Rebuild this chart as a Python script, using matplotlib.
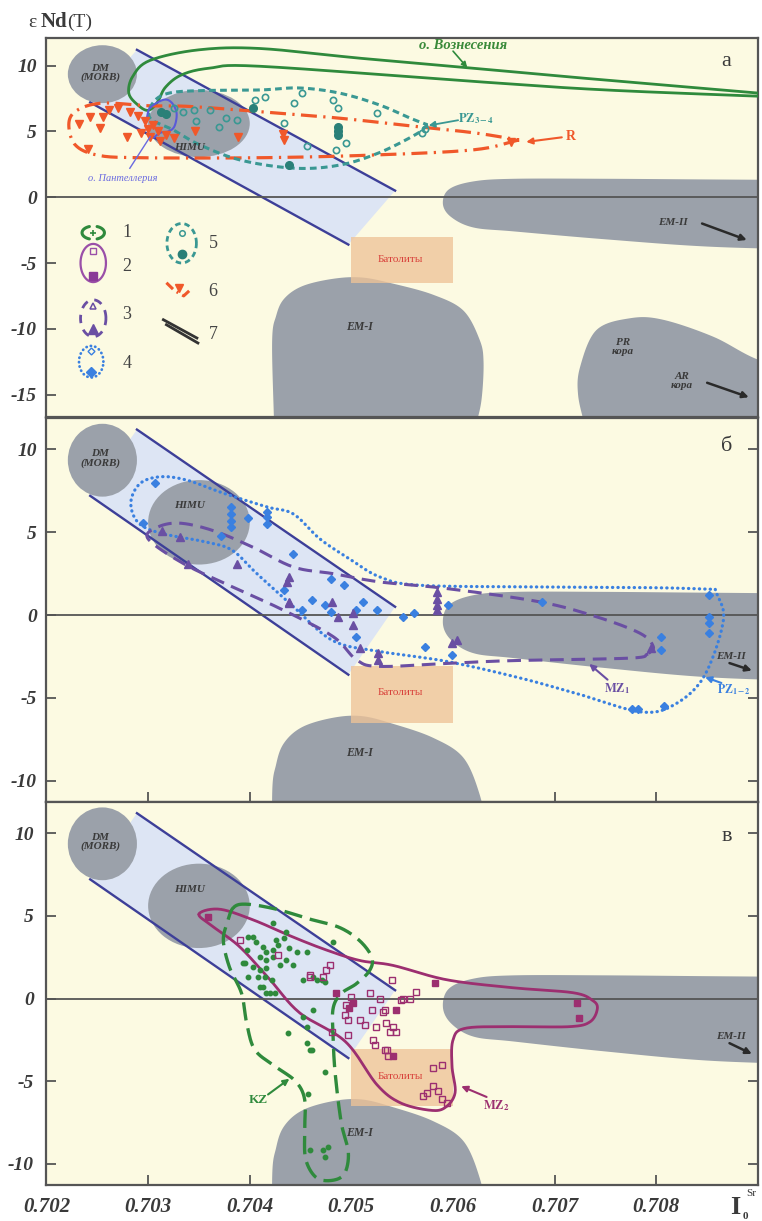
import numpy as np
import matplotlib
matplotlib.use("Agg")
import matplotlib.pyplot as plt
from matplotlib.patches import Ellipse, Polygon, Rectangle

plt.rcParams['font.family'] = ['Liberation Serif', 'DejaVu Serif']
plt.rcParams['mathtext.fontset'] = 'stix'

# ---------------- axes ----------------
X_RANGE = (0.702, 0.709)
X_TICKS = [0.702, 0.703, 0.704, 0.705, 0.706, 0.707, 0.708]
X_TICK_LABELS = ['0.702', '0.703', '0.704', '0.705', '0.706', '0.707', '0.708']
Y_RANGE_A = (-16.7, 12.1)
Y_TICKS_A = [10, 5, 0, -5, -10, -15]
Y_RANGE_BC = (-11.27, 11.88)
Y_TICKS_BC = [10, 5, 0, -5, -10]

# ---------------- mantle / crust reservoirs ----------------
DM_CENTER, DM_SIZE = (0.70255, 9.35), (0.00068, 4.4)
HIMU_CENTER, HIMU_SIZE = (0.70350, 5.6), (0.00100, 5.1)
BAND_UPPER = [(0.70289, 11.2), (0.70543, 0.5)]
BAND_LOWER = [(0.70243, 7.2), (0.70497, -3.6)]
BATHOLITH_X = (0.70500, 0.70600)
BATHOLITH_Y = (-6.5, -3.05)
EM1_OUTLINE = [(0.70424, -17.5), (0.70422, -11.0), (0.70426, -9.0), (0.70434, -7.7),
               (0.70452, -6.75), (0.70482, -6.2), (0.70510, -6.1), (0.70540, -6.55),
               (0.70580, -7.4), (0.70610, -8.6), (0.70626, -10.8), (0.70630, -12.5),
               (0.70628, -15.4), (0.70622, -17.5)]
EM2_OUTLINE = [(0.70590, -0.5), (0.70596, 0.6), (0.70620, 1.2), (0.70660, 1.4),
               (0.70750, 1.4), (0.70850, 1.35), (0.70960, 1.3), (0.70960, -4.0),
               (0.70850, -3.75), (0.70750, -3.2), (0.70660, -2.6), (0.70620, -2.3),
               (0.70598, -1.5)]
CRUST_OUTLINE = [(0.70725, -12.9), (0.70741, -10.1), (0.70774, -9.2), (0.70806, -9.3),
                 (0.70856, -10.6), (0.70902, -12.4), (0.70960, -13.5), (0.70960, -17.5),
                 (0.70730, -17.5), (0.70723, -15.0)]

# ---------------- panel a: oceanic islands ----------------
ASCENSION = [(0.70925, 7.75), (0.7075, 8.9), (0.7062, 9.8), (0.7051, 10.55),
             (0.7041, 11.3), (0.7035, 11.2), (0.70302, 10.4), (0.70285, 9.2),
             (0.70281, 7.9), (0.70290, 7.0), (0.70300, 6.6), (0.70309, 7.2),
             (0.70317, 8.35), (0.70333, 9.3), (0.70360, 9.8), (0.70410, 9.95),
             (0.7062, 8.8), (0.7075, 8.15), (0.70925, 7.6)]
PANTELLERIA = [(0.70305, 4.5), (0.70312, 4.9), (0.70320, 5.0), (0.70326, 5.4),
               (0.70328, 6.4), (0.70323, 7.2), (0.70315, 7.4), (0.70302, 6.8),
               (0.70299, 6.1)]
PZ34_OUTLINE = [(0.70305, 7.2), (0.70320, 7.9), (0.70352, 8.1), (0.70410, 8.15),
                (0.70449, 8.3), (0.70489, 7.9), (0.70528, 7.0), (0.70558, 6.0),
                (0.70575, 5.5), (0.70564, 4.8), (0.70528, 3.4), (0.70489, 2.45),
                (0.70445, 2.2), (0.70392, 2.8), (0.70351, 3.97), (0.70325, 5.1),
                (0.70302, 6.0)]
R_OUTLINE = [(0.70222, 5.6), (0.70230, 6.6), (0.70255, 7.15), (0.70300, 6.95),
             (0.70340, 6.9), (0.70410, 6.5), (0.70489, 6.0), (0.70560, 5.4),
             (0.70620, 4.9), (0.70665, 4.35), (0.70620, 3.6), (0.70520, 3.2),
             (0.70410, 3.0), (0.70292, 3.0), (0.70250, 3.2), (0.70228, 4.0)]

PZ34_OPEN_X = [0.70325, 0.70334, 0.70345, 0.70361, 0.70377, 0.70387, 0.70370, 0.70405,
               0.70415, 0.70451, 0.70444, 0.70482, 0.70487, 0.70525, 0.70434, 0.70456,
               0.70485, 0.70495, 0.70569, 0.70572, 0.70347]
PZ34_OPEN_Y = [6.8, 6.5, 6.6, 6.6, 6.0, 5.9, 5.35, 7.39,
               7.6, 7.95, 7.19, 7.39, 6.76, 6.38, 5.62, 3.9,
               3.6, 4.1, 4.9, 5.2, 5.8]
PZ34_FILL_X = [0.70313, 0.70318, 0.70403, 0.70487, 0.70487, 0.70487, 0.70439]
PZ34_FILL_Y = [6.5, 6.3, 6.8, 5.3, 5.0, 4.7, 2.45]

R_X = [0.70243, 0.70256, 0.70253, 0.70279, 0.70241, 0.70262, 0.70270, 0.70282,
       0.70290, 0.70297, 0.70305, 0.70300, 0.70310, 0.70293, 0.70318, 0.70325,
       0.70312, 0.70302, 0.70346, 0.70388, 0.70434, 0.70433, 0.70657, 0.70232]
R_Y = [6.1, 6.1, 5.27, 4.6, 3.7, 6.6, 6.8, 6.5,
       6.2, 5.8, 5.5, 5.2, 5.0, 4.9, 4.7, 4.5,
       4.3, 4.6, 5.0, 4.6, 4.35, 4.8, 4.2, 5.6]

# ---------------- panel b: PZ1-2 and MZ1 ----------------
PZ12_OUTLINE = [(0.70292, 7.94), (0.70312, 8.35), (0.70338, 8.15), (0.70374, 7.36),
                (0.70417, 6.53), (0.70443, 6.1), (0.70469, 4.6), (0.70498, 3.4),
                (0.70528, 2.3), (0.70567, 1.8), (0.70680, 1.7), (0.70800, 1.65),
                (0.70858, 1.55), (0.70866, -0.3), (0.70847, -3.7), (0.70818, -5.4),
                (0.70785, -5.85), (0.70725, -4.8), (0.70666, -3.8), (0.70594, -2.8),
                (0.70528, -2.2), (0.70482, -1.55), (0.70443, 0.5), (0.70407, 2.5),
                (0.70383, 3.9), (0.70358, 4.4), (0.70312, 4.95), (0.70290, 5.6),
                (0.70283, 6.8)]
MZ1_OUTLINE = [(0.70300, 4.6), (0.70309, 5.3), (0.70331, 5.55), (0.70364, 5.1),
               (0.70403, 4.1), (0.70443, 2.9), (0.70482, 2.5), (0.70528, 2.0),
               (0.70594, 1.6), (0.70685, 0.8), (0.70741, -0.1), (0.70784, -1.1),
               (0.70797, -1.9), (0.70792, -2.35), (0.70774, -2.6), (0.70659, -2.75),
               (0.70600, -2.9), (0.70528, -3.1), (0.70505, -2.7), (0.70482, -1.3),
               (0.70433, 0.3), (0.70383, 1.7), (0.70335, 3.1)]

PZ12_X = [0.70307, 0.70295, 0.70382, 0.70382, 0.70382, 0.70382, 0.70398, 0.70417,
          0.70417, 0.70417, 0.70443, 0.70372, 0.70434, 0.70480, 0.70493, 0.70461,
          0.70451, 0.70474, 0.70480, 0.70511, 0.70505, 0.70525, 0.70505, 0.70551,
          0.70562, 0.70572, 0.70595, 0.70599, 0.70688, 0.70805, 0.70805, 0.70852,
          0.70852, 0.70852, 0.70852, 0.70776, 0.70782, 0.70808]
PZ12_Y = [8.0, 5.55, 6.5, 6.1, 5.7, 5.3, 5.85, 6.2,
          5.9, 5.5, 3.7, 4.8, 1.5, 2.2, 1.8, 0.9,
          0.3, 0.6, 0.2, 0.8, 0.3, 0.3, -1.3, -0.1,
          0.1, -1.9, 0.6, -2.4, 0.8, -1.3, -2.1, 1.2,
          -0.1, -0.5, -1.1, -5.7, -5.7, -5.5]
MZ1_X = [0.70314, 0.70331, 0.70339, 0.70387, 0.70437, 0.70439, 0.70439, 0.70481,
         0.70439, 0.70487, 0.70502, 0.70502, 0.70508, 0.70526, 0.70526, 0.70584,
         0.70584, 0.70584, 0.70584, 0.70599, 0.70604, 0.70795]
MZ1_Y = [5.1, 4.7, 3.1, 3.1, 2.0, 2.3, 0.7, 0.8,
         0.8, -0.1, 0.1, -0.6, -2.0, -2.3, -2.7, 1.4,
         1.0, 0.6, 0.3, -1.7, -1.5, -2.0]

# ---------------- panel c: MZ2 and KZ ----------------
MZ2_OUTLINE = [(0.70350, 5.1), (0.70370, 5.4), (0.70403, 4.76), (0.70442, 3.73),
               (0.70475, 2.94), (0.70508, 2.3), (0.70541, 2.0), (0.70594, 1.13),
               (0.70659, 0.65), (0.70718, 0.35), (0.70737, -0.1), (0.70742, -0.6),
               (0.70735, -1.4), (0.70715, -1.7), (0.70659, -1.7), (0.70612, -1.8),
               (0.70600, -2.5), (0.70599, -4.1), (0.70602, -5.7), (0.70592, -6.6),
               (0.70577, -6.75), (0.70548, -6.3), (0.70525, -5.2), (0.70494, -2.6),
               (0.70449, -0.86), (0.70420, 1.13), (0.70390, 3.13), (0.70364, 4.34)]
KZ_OUTLINE = [(0.70384, 5.5), (0.70397, 5.7), (0.70426, 5.4), (0.70459, 4.8),
              (0.70488, 4.3), (0.70508, 3.5), (0.70520, 2.5), (0.70518, 1.7),
              (0.70505, 0.9), (0.70490, 0.3), (0.70482, -0.6), (0.70482, -2.3),
              (0.70484, -4.5), (0.70490, -7.5), (0.70497, -9.3), (0.70493, -10.6),
              (0.70480, -11.0), (0.70465, -10.8), (0.70455, -9.7), (0.70454, -8.0),
              (0.70454, -6.1), (0.70445, -5.0), (0.70425, -4.1), (0.70405, -3.1),
              (0.70397, -1.5), (0.70392, 0.3), (0.70380, 1.9), (0.70374, 3.5),
              (0.70378, 4.6)]

KZ_X = [0.70423, 0.70436, 0.70434, 0.70426, 0.70398, 0.70406, 0.70413, 0.70397,
        0.70416, 0.70423, 0.70428, 0.70439, 0.70446, 0.70456, 0.70436, 0.70443,
        0.70430, 0.70416, 0.70410, 0.70423, 0.70393, 0.70403, 0.70410, 0.70416,
        0.70408, 0.70415, 0.70398, 0.70422, 0.70413, 0.70425, 0.70416, 0.70452,
        0.70462, 0.70466, 0.70471, 0.70474, 0.70482, 0.70462, 0.70452, 0.70456,
        0.70438, 0.70456, 0.70459, 0.70474, 0.70403, 0.70395, 0.70410, 0.70420,
        0.70457, 0.70459, 0.70472, 0.70477, 0.70474, 0.70461]
KZ_Y = [4.55, 4.03, 3.67, 3.55, 3.73, 3.43, 3.13, 2.94,
        2.82, 2.94, 3.25, 3.06, 2.82, 2.82, 2.34, 2.04,
        2.04, 2.34, 2.52, 2.52, 2.16, 1.92, 1.73, 1.85,
        1.31, 1.31, 1.31, 1.13, 0.70, 0.34, 0.34, 1.13,
        1.31, 1.13, 1.13, 1.01, 3.43, -0.68, -1.10, -1.70,
        -2.08, -2.68, -3.10, -4.43, 3.73, 2.16, 0.70, 0.34,
        -5.8, -9.15, -9.15, -8.97, -9.6, -3.1]

MZ2_OPEN_X = [0.70390, 0.70428, 0.70479, 0.70475, 0.70472, 0.70459, 0.70540, 0.70564,
              0.70500, 0.70518, 0.70528, 0.70551, 0.70558, 0.70495, 0.70494, 0.70497,
              0.70520, 0.70531, 0.70508, 0.70513, 0.70524, 0.70534, 0.70541, 0.70538,
              0.70544, 0.70497, 0.70481, 0.70521, 0.70523, 0.70533, 0.70536, 0.70549,
              0.70533, 0.70580, 0.70589, 0.70580, 0.70585, 0.70574, 0.70570, 0.70589,
              0.70594, 0.70535, 0.70459]
MZ2_OPEN_Y = [3.55, 2.64, 2.04, 1.73, 1.31, 1.31, 1.13, 0.40,
              0.10, 0.34, -0.04, -0.04, -0.04, -0.38, -1.0, -1.28,
              -0.68, -0.80, -1.28, -1.59, -1.71, -1.47, -1.71, -2.01,
              -2.01, -2.20, -2.00, -2.50, -2.80, -3.10, -3.50, -0.10,
              -0.70, -4.20, -4.00, -5.30, -5.60, -5.70, -5.90, -6.10,
              -6.30, -3.10, 1.43]
MZ2_FILL_X = [0.70359, 0.70485, 0.70498, 0.70502, 0.70544, 0.70541, 0.70582, 0.70722, 0.70724]
MZ2_FILL_Y = [4.94, 0.34, -0.56, -0.30, -0.70, -3.50, 0.94, -0.30, -1.20]

# ---------------- colours ----------------
BG = '#fcfae2'
GRAY = '#9ba1aa'
BAND_FILL = '#dde5f4'
BAND_LINE = '#3d3f98'
BATH = '#eec398'
GREEN = '#2f8a3c'
TEAL = '#3a9893'
TEAL_DARK = '#2a8078'
ORANGE = '#f0582a'
BLUE = '#3a80e0'
PURPLE = '#6a4fa3'
MAGENTA = '#9c2f70'
AXC = '#555555'
TXT = '#3a3a3a'

XS = 6200.0  # horizontal stretch so outlines bend evenly on screen


def _cr_open(P, n):
    P = np.vstack([2 * P[0] - P[1], P, 2 * P[-1] - P[-2]])
    t = np.linspace(0, 1, n, endpoint=False)[:, None]
    out = []
    for i in range(1, len(P) - 2):
        p0, p1, p2, p3 = P[i - 1], P[i], P[i + 1], P[i + 2]
        out.append(0.5 * (2 * p1 + (-p0 + p2) * t + (2 * p0 - 5 * p1 + 4 * p2 - p3) * t ** 2
                          + (-p0 + 3 * p1 - 3 * p2 + p3) * t ** 3))
    out.append(P[-2][None])
    return np.vstack(out)


def _cr_closed(P, n):
    m = len(P)
    t = np.linspace(0, 1, n, endpoint=False)[:, None]
    out = []
    for i in range(m):
        p0, p1, p2, p3 = P[i - 1], P[i], P[(i + 1) % m], P[(i + 2) % m]
        out.append(0.5 * (2 * p1 + (-p0 + p2) * t + (2 * p0 - 5 * p1 + 4 * p2 - p3) * t ** 2
                          + (-p0 + 3 * p1 - 3 * p2 + p3) * t ** 3))
    out.append(P[0][None])
    return np.vstack(out)


def smooth(pts, closed=True, corners=(), n=16):
    P = np.asarray(pts, float).copy()
    P[:, 0] = (P[:, 0] - 0.702) * XS
    if closed and corners:
        k = corners[0]
        P = np.roll(P, -k, axis=0)
        cs = sorted((c - k) % len(P) for c in corners) + [len(P)]
        P = np.vstack([P, P[:1]])
        pieces = []
        for a, b in zip(cs[:-1], cs[1:]):
            seg = P[a:b + 1]
            pieces.append(seg if len(seg) == 2 else _cr_open(seg, n))
        Q = np.vstack(pieces)
    elif closed:
        Q = _cr_closed(P, n)
    else:
        Q = _cr_open(P, n)
    Q[:, 0] = Q[:, 0] / XS + 0.702
    return Q


def outline(ax, pts, color, ls='-', lw=2.0, closed=True, corners=(), z=4, cap='butt'):
    Q = smooth(pts, closed, corners)
    ax.plot(Q[:, 0], Q[:, 1], color=color, ls=ls, lw=lw, zorder=z,
            dash_capstyle=cap, solid_capstyle='round')


def blob(ax, pts, corners=(), z=2):
    Q = smooth(pts, True, corners)
    ax.add_patch(Polygon(Q, closed=True, fc=GRAY, ec='none', zorder=z))


def label(ax, x, y, s, size=8, color=TXT, style='italic', weight='bold', **kw):
    ax.text(x, y, s, fontsize=size, color=color, style=style, weight=weight,
            ha='center', va='center', zorder=7, linespacing=1.0, **kw)


def arrow(ax, tail, tip, color, lw=1.4, ms=9):
    ax.annotate('', xy=tip, xytext=tail, zorder=7,
                arrowprops=dict(arrowstyle='-|>', color=color, lw=lw,
                                mutation_scale=ms, shrinkA=0, shrinkB=0))


def base(ax, ylim, yticks, em1_y, himu_y, crust=False, right=True, bottom=True):
    ax.set_facecolor(BG)
    ax.set_xlim(*X_RANGE)
    ax.set_ylim(*ylim)
    ax.set_xticks(X_TICKS)
    ax.set_yticks(yticks)
    ax.set_yticklabels([str(v) for v in yticks])
    ax.tick_params(direction='in', length=7, width=1.3, color=AXC,
                   right=right, bottom=bottom, top=False, labelbottom=False)
    for lab in ax.get_yticklabels():
        lab.set_fontsize(14)
        lab.set_fontweight('bold')
        lab.set_fontstyle('italic')
        lab.set_color(TXT)
    ax.tick_params(axis='y', pad=7)
    for sp in ax.spines.values():
        sp.set_color(AXC)
        sp.set_linewidth(1.6)

    # mixing band between depleted mantle and crust
    band = [BAND_LOWER[0], BAND_UPPER[0], BAND_UPPER[1], BAND_LOWER[1]]
    ax.add_patch(Polygon(band, closed=True, fc=BAND_FILL, ec='none', zorder=1))
    for ln in (BAND_UPPER, BAND_LOWER):
        ax.plot([ln[0][0], ln[1][0]], [ln[0][1], ln[1][1]], color=BAND_LINE, lw=1.7, zorder=3)

    blob(ax, EM1_OUTLINE, corners=(0, 13))
    blob(ax, EM2_OUTLINE, corners=(6, 7))
    if crust:
        blob(ax, CRUST_OUTLINE, corners=(6, 7, 8))
    ax.add_patch(Ellipse(DM_CENTER, *DM_SIZE, fc=GRAY, ec='none', zorder=2))
    ax.add_patch(Ellipse(HIMU_CENTER, *HIMU_SIZE, fc=GRAY, ec='none', zorder=2))
    ax.add_patch(Rectangle((BATHOLITH_X[0], BATHOLITH_Y[0]), BATHOLITH_X[1] - BATHOLITH_X[0],
                           BATHOLITH_Y[1] - BATHOLITH_Y[0], fc=BATH, ec='none', alpha=0.78, zorder=2.5))
    ax.axhline(0, color=AXC, lw=1.3, zorder=3)

    label(ax, 0.70253, 9.45, 'DM\n(MORB)', size=8)
    label(ax, 0.70341, himu_y, 'HIMU', size=8)
    label(ax, 0.70508, em1_y, 'EM-I', size=8.5)
    label(ax, 0.70548, -4.7, 'Батолиты', size=8, color='#d8403a', style='normal', weight='normal')


def ring(ax, cx, cy, w, h, color, lw, ls='-', t0=0.0, t1=360.0, cap='butt'):
    t = np.radians(np.linspace(t0, t1, 90))
    ax.plot(cx + 0.5 * w * np.cos(t), cy + 0.5 * h * np.sin(t), color=color, lw=lw, ls=ls,
            zorder=6, dash_capstyle=cap, solid_capstyle='round')


fig = plt.figure(figsize=(7.62, 12.21), dpi=100, facecolor='white')
ax_a = fig.add_axes([0.0610, 0.6585, 0.9337, 0.3104])
ax_b = fig.add_axes([0.0610, 0.3434, 0.9337, 0.3140])
ax_c = fig.add_axes([0.0610, 0.0295, 0.9337, 0.3137])

# ================= panel a =================
ax = ax_a
base(ax, Y_RANGE_A, Y_TICKS_A, em1_y=-9.85, himu_y=3.8, crust=True, right=False, bottom=False)
outline(ax, ASCENSION, GREEN, '-', 2.0, closed=False)
outline(ax, R_OUTLINE, ORANGE, (0, (5, 2, 0.7, 2)), 2.3, corners=(9,))
outline(ax, PZ34_OUTLINE, TEAL, (0, (2.2, 1.4)), 2.2, corners=(8,))
outline(ax, PANTELLERIA, '#5a5ad8', '-', 1.5, closed=False)
ax.plot(R_X, R_Y, 'v', ms=6, color=ORANGE, mec=ORANGE, zorder=5)
ax.plot(PZ34_OPEN_X, PZ34_OPEN_Y, 'o', ms=4.5, mfc='none', mec=TEAL, mew=1.2, zorder=5)
ax.plot(PZ34_FILL_X, PZ34_FILL_Y, 'o', ms=5.5, color=TEAL_DARK, zorder=5)

label(ax, 0.70610, 11.55, 'о. Вознесения', size=10.5, color='#3a8a3a')
arrow(ax, (0.70600, 11.1), (0.70614, 9.85), GREEN, lw=1.2, ms=8)
label(ax, 0.70623, 6.0, r'$\mathbf{PZ_{3-4}}$', size=9, color=TEAL, style='normal')
arrow(ax, (0.70605, 5.85), (0.70576, 5.45), TEAL, lw=1.3)
label(ax, 0.70716, 4.6, 'R', size=10, color=ORANGE, style='normal')
arrow(ax, (0.70707, 4.55), (0.70672, 4.2), ORANGE, lw=1.5)
label(ax, 0.70275, 1.45, 'о. Пантеллерия', size=7.5, color='#6a6ae0', weight='normal')
ax.plot([0.70282, 0.70302], [2.2, 4.6], color='#6a6ae0', lw=1.0, zorder=6)
label(ax, 0.70816, -1.9, 'EM-II', size=8)
arrow(ax, (0.70845, -2.0), (0.70889, -3.25), '#2a2a2a', lw=1.8, ms=9)
label(ax, 0.70767, -11.4, 'PR\nкора', size=8)
label(ax, 0.70825, -14.0, 'AR\nкора', size=8)
arrow(ax, (0.70850, -14.1), (0.70891, -15.2), '#2a2a2a', lw=1.8, ms=9)
ax.text(0.70869, 10.3, 'а', fontsize=16, color=TXT, ha='center', va='center', zorder=7)

# legend of groups
LX, RX = 0.70246, 0.70333
ring(ax, LX, -2.7, 0.00022, 1.0, GREEN, 2.2, t0=110, t1=250)
ring(ax, LX, -2.7, 0.00022, 1.0, GREEN, 2.2, t0=-70, t1=70)
ax.plot([LX], [-2.7], '+', ms=4, color=GREEN, mew=1.2, zorder=6)
ring(ax, LX, -5.0, 0.00025, 2.9, '#9a4fa8', 1.6)
ax.plot([LX], [-4.1], 's', ms=4.5, mfc='none', mec='#9a4fa8', mew=1.0, zorder=6)
ax.plot([LX], [-6.0], 's', ms=6, color='#8a3a98', zorder=6)
ring(ax, LX, -9.2, 0.00025, 2.8, PURPLE, 2.0, ls=(0, (3, 2.5)))
ax.plot([LX], [-8.3], '^', ms=5, mfc='none', mec=PURPLE, mew=1.1, zorder=6)
ax.plot([LX], [-10.0], '^', ms=7, color=PURPLE, zorder=6)
ring(ax, LX - 0.00002, -12.5, 0.00024, 2.4, BLUE, 2.0, ls=(0, (0.1, 1.5)), cap='round')
ax.plot([LX - 0.00002], [-11.7], 'D', ms=3.5, mfc='none', mec=BLUE, mew=1.0, zorder=6)
ax.plot([LX - 0.00002], [-13.3], 'D', ms=5, color=BLUE, zorder=6)
ring(ax, RX, -3.5, 0.00029, 3.0, TEAL, 2.0, ls=(0, (2, 1.4)))
ax.plot([RX], [-2.7], 'o', ms=4, mfc='none', mec=TEAL, mew=1.1, zorder=6)
ax.plot([RX], [-4.3], 'o', ms=6, color=TEAL_DARK, zorder=6)
ax.plot([0.70318, 0.70326, 0.70335, 0.70342], [-6.5, -7.1, -7.5, -7.0], color=ORANGE,
        lw=2.2, ls=(0, (3, 1.5, 0.6, 1.5)), zorder=6)
ax.plot([0.70330], [-6.9], 'v', ms=6, color=ORANGE, zorder=6)
ax.plot([0.70315, 0.70348], [-9.31, -10.7], color='#333333', lw=2.0, zorder=6)
ax.plot([0.70318, 0.70349], [-9.69, -11.08], color='#333333', lw=2.0, zorder=6)
for num, (nx, ny) in zip('1234567', [(0.70279, -2.68), (0.70279, -5.26), (0.70279, -8.93),
                                       (0.70279, -12.65), (0.70364, -3.49), (0.70364, -7.16),
                                       (0.70364, -10.45)]):
    ax.text(nx, ny, num, fontsize=13, color='#444444', ha='center', va='center', zorder=7)

# ================= panel b =================
ax = ax_b
base(ax, Y_RANGE_BC, Y_TICKS_BC, em1_y=-8.3, himu_y=6.64)
outline(ax, PZ12_OUTLINE, BLUE, (0, (0.1, 1.6)), 2.3, corners=(12,), cap='round')
outline(ax, MZ1_OUTLINE, PURPLE, (0, (4.5, 2.5)), 2.2, corners=(13,))
ax.plot(PZ12_X, PZ12_Y, 'D', ms=4.5, color=BLUE, zorder=5)
ax.plot(MZ1_X, MZ1_Y, '^', ms=6, color=PURPLE, zorder=5)
label(ax, 0.70761, -4.45, r'$\mathbf{MZ_1}$', size=9, color=PURPLE, style='normal')
arrow(ax, (0.70752, -3.9), (0.70734, -2.95), PURPLE, lw=1.5)
label(ax, 0.70876, -4.5, r'$\mathbf{PZ_{1-2}}$', size=8.5, color=BLUE, style='normal')
arrow(ax, (0.70864, -4.1), (0.70848, -3.75), BLUE, lw=1.5)
label(ax, 0.70873, -2.5, 'EM-II', size=8)
arrow(ax, (0.70872, -2.9), (0.70894, -3.35), '#2a2a2a', lw=1.8, ms=9)
ax.text(0.70869, 10.15, 'б', fontsize=16, color=TXT, ha='center', va='center', zorder=7)

# ================= panel c =================
ax = ax_c
base(ax, Y_RANGE_BC, Y_TICKS_BC, em1_y=-8.1, himu_y=6.57)
ax.tick_params(labelbottom=True, pad=9)
ax.set_xticklabels(X_TICK_LABELS)
for lab in ax.get_xticklabels():
    lab.set_fontsize(15)
    lab.set_fontweight('bold')
    lab.set_fontstyle('italic')
    lab.set_color(TXT)
outline(ax, MZ2_OUTLINE, MAGENTA, '-', 2.0)
outline(ax, KZ_OUTLINE, GREEN, (0, (5.5, 2.4)), 2.4)
ax.plot(KZ_X, KZ_Y, 'o', ms=3.2, color=GREEN, zorder=5)
ax.plot(MZ2_OPEN_X, MZ2_OPEN_Y, 's', ms=4.5, mfc='none', mec=MAGENTA, mew=1.0, zorder=5)
ax.plot(MZ2_FILL_X, MZ2_FILL_Y, 's', ms=5, color=MAGENTA, zorder=5)
label(ax, 0.70643, -6.45, r'$\mathbf{MZ_2}$', size=9, color=MAGENTA, style='normal')
arrow(ax, (0.70633, -5.95), (0.70608, -5.3), MAGENTA, lw=1.5)
label(ax, 0.70408, -6.15, 'KZ', size=9.5, color=GREEN, style='normal')
arrow(ax, (0.70418, -5.8), (0.70439, -4.85), GREEN, lw=1.5)
label(ax, 0.70873, -2.3, 'EM-II', size=8)
arrow(ax, (0.70872, -2.7), (0.70894, -3.35), '#2a2a2a', lw=1.8, ms=9)
ax.text(0.70869, 9.8, 'в', fontsize=16, color=TXT, ha='center', va='center', zorder=7)

# ---------------- axis titles ----------------
fig.text(28 / 762, 1 - 27 / 1221, 'ε', fontsize=14, color=TXT, va='baseline')
fig.text(41 / 762, 1 - 27 / 1221, 'Nd', fontsize=15, weight='bold', color=TXT, va='baseline')
fig.text(67 / 762, 1 - 27 / 1221, '(T)', fontsize=14, color=TXT, va='baseline')
fig.text(730 / 762, 1 - 1214 / 1221, 'I', fontsize=19, weight='bold', color=TXT, va='baseline')
fig.text(743 / 762, 1 - 1219 / 1221, '0', fontsize=8, weight='bold', color=TXT, va='baseline')
fig.text(746 / 762, 1 - 1196 / 1221, 'Sr', fontsize=8, color=TXT, va='baseline')

fig.savefig('out.png', dpi=100, facecolor='white')
